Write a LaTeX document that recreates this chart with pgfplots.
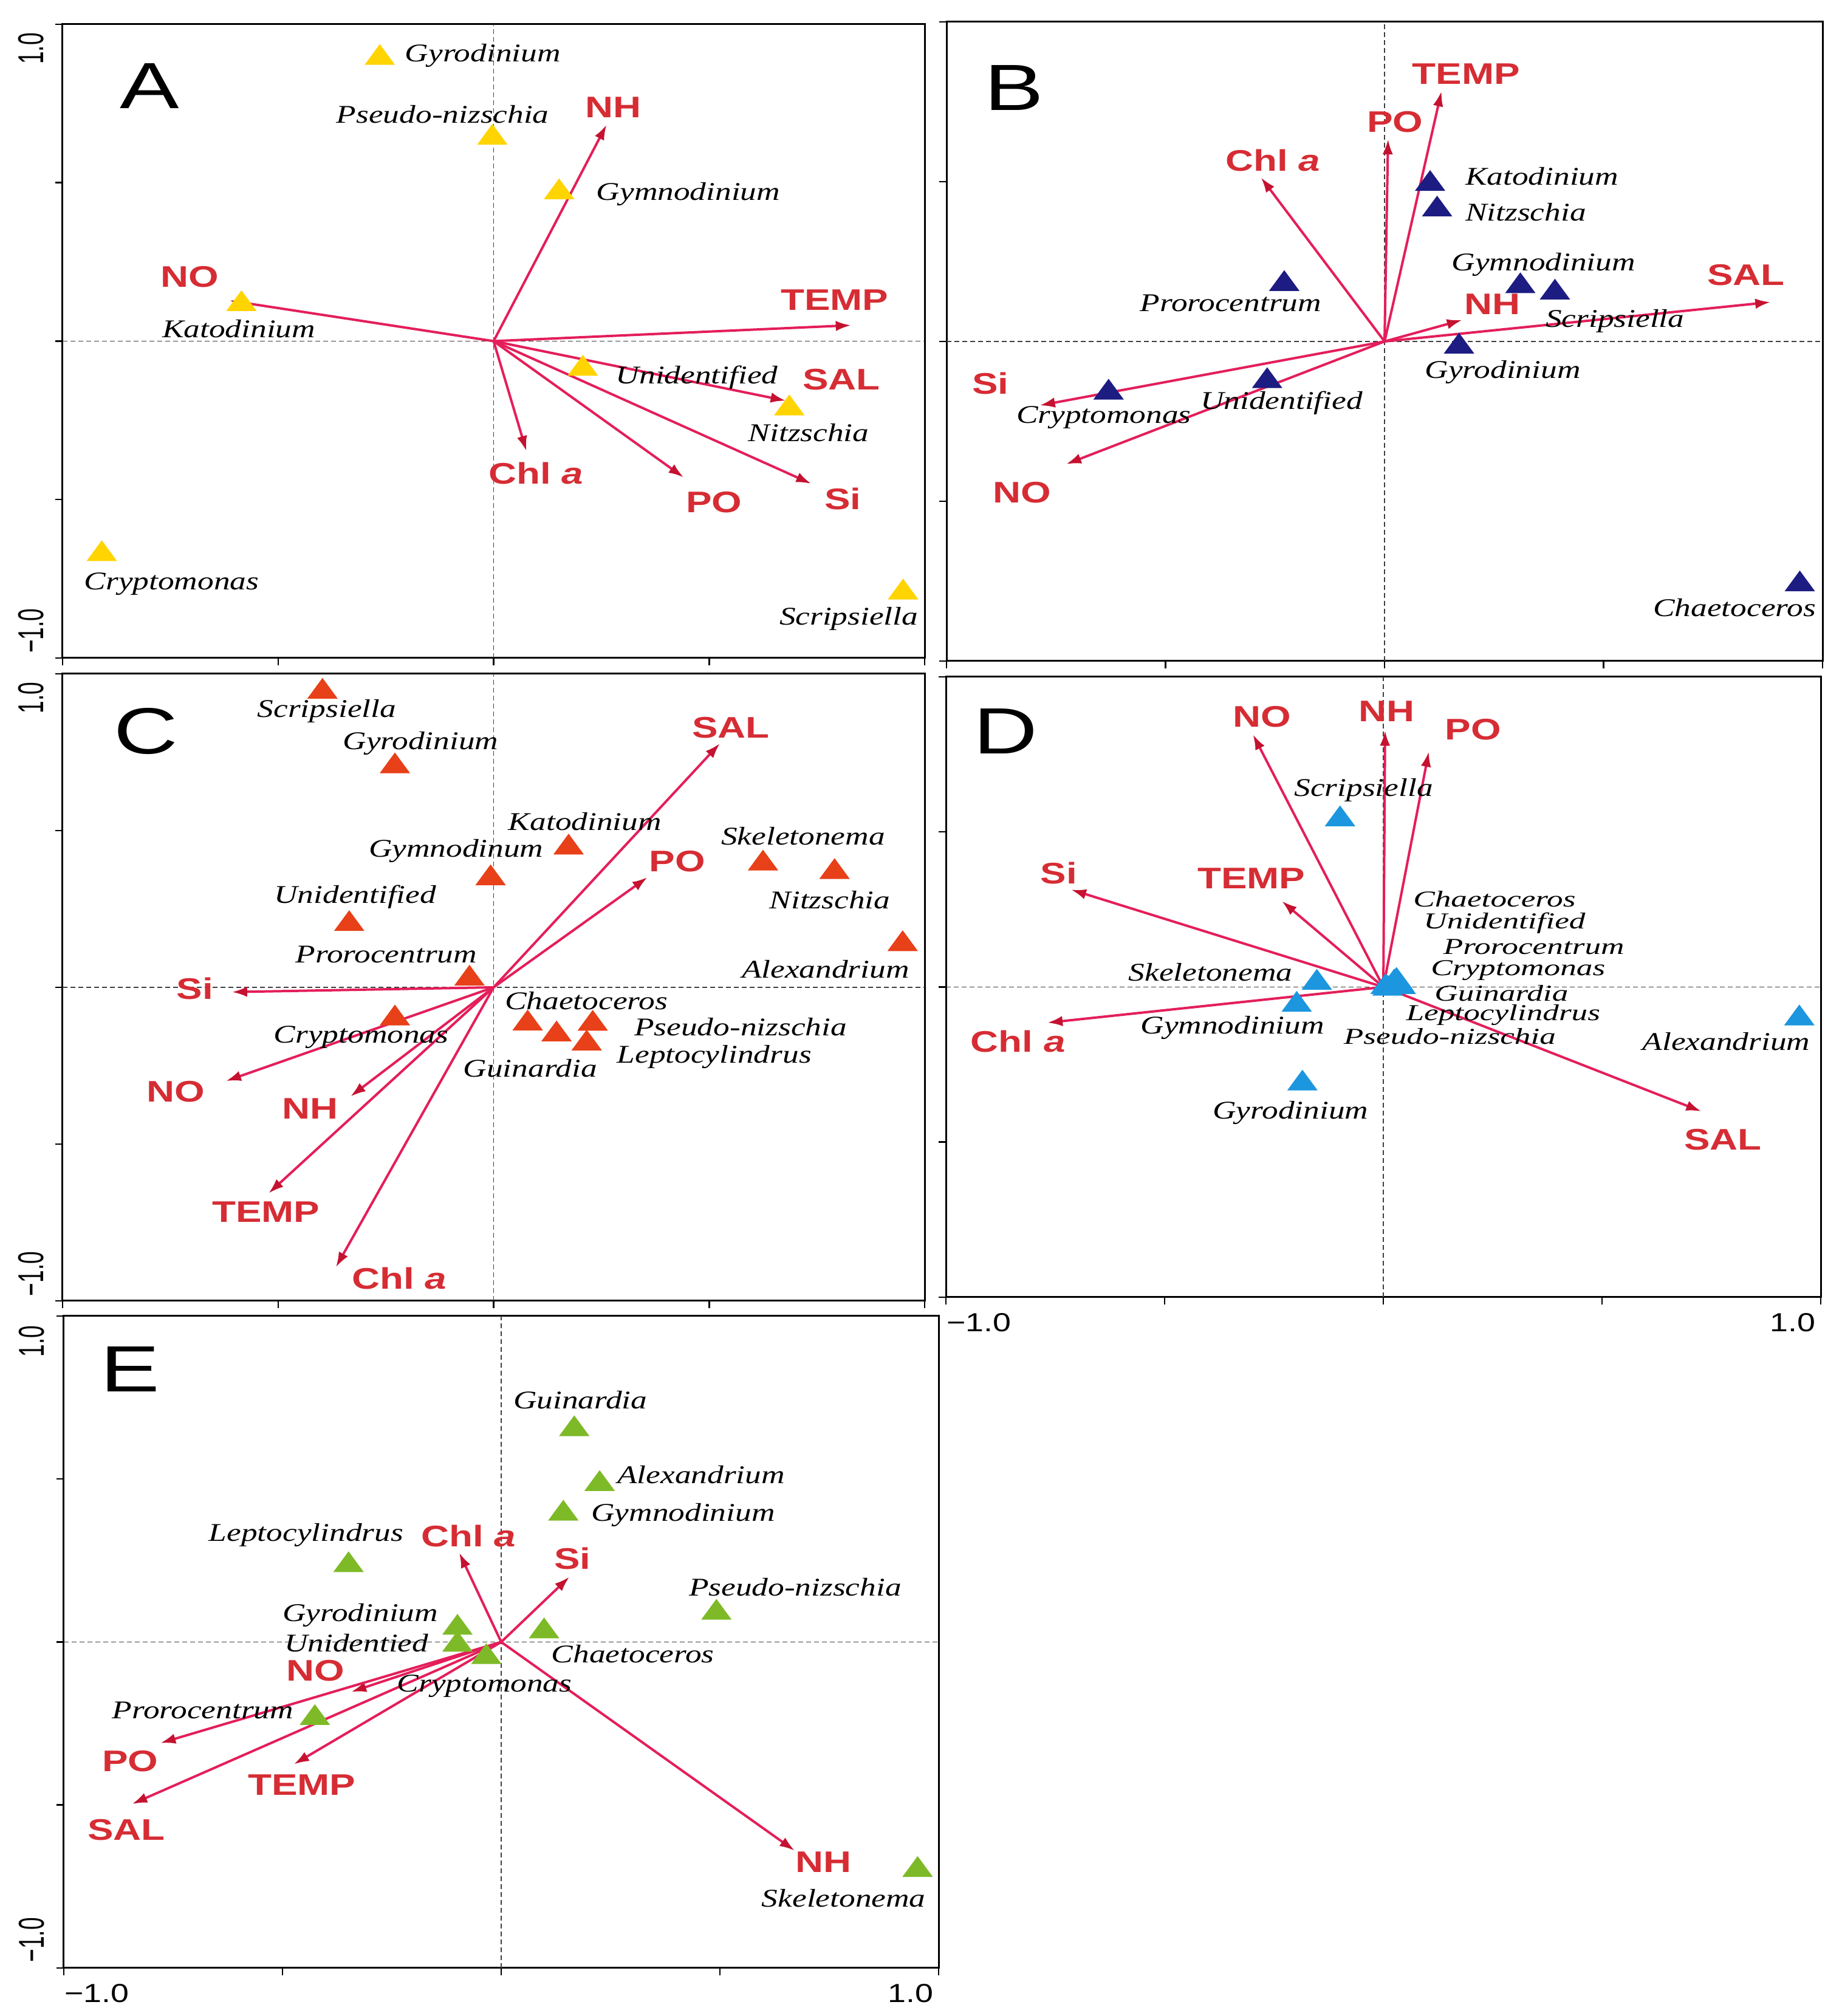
\documentclass[border=0pt]{standalone}
\usepackage{pgfplots}
\pgfplotsset{compat=1.18}
\usetikzlibrary{arrows.meta}
\usepackage{fontspec}
\setmainfont{Liberation Serif}
\newfontfamily\arial{Liberation Sans}

\definecolor{arrline}{RGB}{228,30,90}
\definecolor{arrhead}{RGB}{196,18,48}
\definecolor{labred}{RGB}{214,44,52}
\definecolor{cyel}{RGB}{255,212,0}
\definecolor{cnavy}{RGB}{28,28,130}
\definecolor{cred}{RGB}{232,64,24}
\definecolor{cblue}{RGB}{28,150,222}
\definecolor{cgreen}{RGB}{126,186,40}

\newcommand{\spl}[3]{\node[inner sep=0pt, xscale=1.27, font=\fontsize{8.4}{9}\selectfont\itshape] at (axis cs:#1,#2) {#3};}
\newcommand{\spls}[3]{\node[inner sep=0pt, xscale=1.42, font=\fontsize{7.5}{8}\selectfont\itshape] at (axis cs:#1,#2) {#3};}
\newcommand{\splw}[3]{\node[inner sep=0pt, anchor=west, xscale=1.27, font=\fontsize{8.4}{9}\selectfont\itshape] at (axis cs:#1,#2) {#3};}
\newcommand{\lab}[3]{\node[inner sep=0pt, xscale=1.3, text=labred, font=\arial\bfseries\fontsize{9.8}{10}\selectfont] at (axis cs:#1,#2) {#3};}
\newcommand{\arr}[2]{\addplot[arrline, line width=0.8pt, -{Latex[length=5pt,width=3.4pt,color=arrhead]}] coordinates {(0,0) (#1,#2)};}
\newcommand{\pletter}[3]{\node[inner sep=0pt, xscale=1.36, font=\arial\fontsize{21.5}{22}\selectfont] at (axis cs:#1,#2) {#3};}
\newcommand{\zerolines}{%
  \addplot[black!75, line width=0.35pt, dash pattern=on 1.6pt off 1pt] coordinates {(-1,0) (1,0)};
  \addplot[black!75, line width=0.35pt, dash pattern=on 1.6pt off 1pt] coordinates {(0,-1) (0,1)};}
\newcommand{\ylabs}{%
  \node[rotate=90, yscale=1.6, inner sep=0pt, font=\arial\fontsize{7.4}{8}\selectfont] at (axis cs:-1.073,0.923) {1.0};
  \node[rotate=90, yscale=1.6, inner sep=0pt, font=\arial\fontsize{7.4}{8}\selectfont] at (axis cs:-1.073,-0.914) {−1.0};}
\newcommand{\xlabs}{%
  \node[anchor=north west, yshift=-5pt, xscale=1.25, inner sep=0pt, font=\arial\fontsize{8.6}{9}\selectfont] at (axis cs:-1,-1) {−1.0};
  \node[anchor=north east, yshift=-5pt, xshift=-1.5pt, xscale=1.25, inner sep=0pt, font=\arial\fontsize{8.6}{9}\selectfont] at (axis cs:1,-1) {1.0};}

\pgfplotsset{panel/.style={scale only axis, anchor=south west,
  xmin=-1, xmax=1, ymin=-1, ymax=1,
  xtick={-1,-0.5,0,0.5,1}, ytick={-1,-0.5,0,0.5,1},
  xticklabels={}, yticklabels={},
  tick pos=left, tick align=outside, major tick length=2.4pt,
  axis line style={line width=0.6pt, black},
  every tick/.style={line width=0.5pt, black},
  clip=false}}

\begin{document}
\begin{tikzpicture}
\path[use as bounding box] (0,0) rectangle (606.2pt,663.6pt);

% ---------------- A ----------------
\begin{axis}[panel, at={(20.6pt,447pt)}, width=283.8pt, height=208.6pt]
\zerolines
\arr{0.262}{0.683}
\arr{-0.613}{0.128}
\arr{0.829}{0.050}
\arr{0.678}{-0.188}
\arr{0.737}{-0.450}
\arr{0.441}{-0.430}
\arr{0.076}{-0.347}
\addplot[only marks, mark=triangle*, mark size=4.2pt, mark options={xscale=1.27, fill=cyel, draw=cyel}] coordinates {
(-0.264,0.894) (-0.003,0.642) (0.152,0.470) (-0.585,0.117)
(0.207,-0.087) (0.686,-0.212) (-0.909,-0.672) (0.950,-0.793)};
\splw{-0.207}{0.901}{Gyrodinium}
\spl{-0.118}{0.715}{Pseudo-nizschia}
\splw{0.237}{0.464}{Gymnodinium}
\spl{-0.591}{0.038}{Katodinium}
\splw{0.282}{-0.114}{Unidentified}
\spl{0.731}{-0.289}{Nitzschia}
\spl{-0.747}{-0.766}{Cryptomonas}
\spl{0.824}{-0.876}{Scripsiella}
\lab{0.277}{0.737}{NH}
\lab{-0.705}{0.202}{NO}
\lab{0.791}{0.130}{TEMP}
\lab{0.807}{-0.121}{SAL}
\lab{0.810}{-0.497}{Si}
\lab{0.511}{-0.508}{PO}
\lab{0.098}{-0.417}{Chl \textit{a}}
\pletter{-0.798}{0.806}{A}
\ylabs
\end{axis}

% ---------------- B ----------------
\begin{axis}[panel, at={(311.6pt,446pt)}, width=288.4pt, height=210.4pt]
\zerolines
\arr{0.130}{0.783}
\arr{0.008}{0.633}
\arr{-0.282}{0.513}
\arr{0.881}{0.123}
\arr{0.177}{0.067}
\arr{-0.787}{-0.200}
\arr{-0.727}{-0.384}
\addplot[only marks, mark=triangle*, mark size=4.2pt, mark options={xscale=1.27, fill=cnavy, draw=cnavy}] coordinates {
(0.104,0.493) (0.120,0.413) (-0.229,0.180) (0.310,0.173) (0.389,0.153)
(0.170,-0.016) (-0.268,-0.124) (-0.630,-0.160) (0.948,-0.760)};
\splw{0.183}{0.516}{Katodinium}
\splw{0.183}{0.404}{Nitzschia}
\spl{-0.351}{0.120}{Prorocentrum}
\spl{0.363}{0.240}{Gymnodinium}
\spl{0.526}{0.063}{Scripsiella}
\spl{0.270}{-0.096}{Gyrodinium}
\spl{-0.235}{-0.193}{Unidentified}
\spl{-0.641}{-0.237}{Cryptomonas}
\spl{0.799}{-0.833}{Chaetoceros}
\lab{0.186}{0.837}{TEMP}
\lab{0.024}{0.687}{PO}
\lab{-0.255}{0.567}{Chl \textit{a}}
\lab{0.825}{0.207}{SAL}
\lab{0.246}{0.116}{NH}
\lab{-0.900}{-0.131}{Si}
\lab{-0.827}{-0.473}{NO}
\pletter{-0.846}{0.793}{B}
\end{axis}

% ---------------- C ----------------
\begin{axis}[panel, at={(20.6pt,235.4pt)}, width=283.8pt, height=206.4pt]
\zerolines
\arr{0.525}{0.778}
\arr{0.357}{0.351}
\arr{-0.607}{-0.015}
\arr{-0.621}{-0.299}
\arr{-0.332}{-0.348}
\arr{-0.522}{-0.657}
\arr{-0.366}{-0.893}
\addplot[only marks, mark=triangle*, mark size=4.2pt, mark options={xscale=1.27, fill=cred, draw=cred}] coordinates {
(-0.397,0.943) (-0.229,0.705) (0.174,0.446) (-0.007,0.348) (0.625,0.395)
(0.791,0.368) (-0.335,0.202) (0.949,0.138) (-0.056,0.028) (-0.229,-0.099)
(0.079,-0.115) (0.146,-0.150) (0.230,-0.116) (0.216,-0.179)};
\spl{-0.387}{0.880}{Scripsiella}
\spl{-0.169}{0.778}{Gyrodinium}
\spl{0.212}{0.529}{Katodinium}
\spl{-0.087}{0.435}{Gymnodinum}
\spl{0.718}{0.482}{Skeletonema}
\spl{0.780}{0.278}{Nitzschia}
\spl{-0.321}{0.288}{Unidentified}
\spl{0.770}{0.057}{Alexandrium}
\spl{-0.249}{0.105}{Prorocentrum}
\spl{-0.307}{-0.159}{Cryptomonas}
\spl{0.215}{-0.043}{Chaetoceros}
\spl{0.085}{-0.259}{Guinardia}
\spl{0.573}{-0.126}{Pseudo-nizschia}
\spl{0.512}{-0.222}{Leptocylindrus}
\lab{0.550}{0.829}{SAL}
\lab{0.426}{0.402}{PO}
\lab{-0.693}{-0.003}{Si}
\lab{-0.738}{-0.332}{NO}
\lab{-0.426}{-0.386}{NH}
\lab{-0.528}{-0.716}{TEMP}
\lab{-0.219}{-0.929}{Chl \textit{a}}
\pletter{-0.807}{0.816}{C}
\ylabs
\end{axis}

% ---------------- D ----------------
\begin{axis}[panel, at={(311.4pt,236.6pt)}, width=288pt, height=204.2pt]
\zerolines
\arr{-0.298}{0.814}
\arr{0.004}{0.827}
\arr{0.104}{0.759}
\arr{-0.714}{0.314}
\arr{-0.232}{0.277}
\arr{-0.768}{-0.115}
\arr{0.727}{-0.401}
\addplot[only marks, mark=triangle*, mark size=4.2pt, mark options={xscale=1.27, fill=cblue, draw=cblue}] coordinates {
(-0.099,0.541) (-0.152,0.014) (-0.198,-0.057) (-0.185,-0.311) (0.951,-0.101)
(0.030,0.020) (0.025,0.015) (0.035,0.010) (0.020,0.000) (0.010,-0.005) (0.040,0.000) (0.005,0.000)};
\spl{-0.045}{0.635}{Scripsiella}
\spl{-0.395}{0.047}{Skeletonema}
\spl{-0.345}{-0.132}{Gymnodinium}
\spl{-0.212}{-0.405}{Gyrodinium}
\spl{0.784}{-0.176}{Alexandrium}
\spls{0.254}{0.284}{Chaetoceros}
\spls{0.277}{0.206}{Unidentified}
\spls{0.344}{0.130}{Prorocentrum}
\spls{0.308}{0.054}{Cryptomonas}
\spls{0.270}{-0.020}{Guinardia}
\spls{0.274}{-0.090}{Leptocylindrus}
\spls{0.152}{-0.160}{Pseudo-nizschia}
\lab{-0.278}{0.872}{NO}
\lab{0.008}{0.889}{NH}
\lab{0.205}{0.831}{PO}
\lab{-0.742}{0.368}{Si}
\lab{-0.302}{0.351}{TEMP}
\lab{-0.835}{-0.176}{Chl \textit{a}}
\lab{0.776}{-0.491}{SAL}
\pletter{-0.864}{0.824}{D}
\xlabs
\end{axis}

% ---------------- E ----------------
\begin{axis}[panel, at={(21pt,15.8pt)}, width=288pt, height=214.6pt]
\zerolines
\arr{-0.096}{0.274}
\arr{0.156}{0.200}
\arr{-0.343}{-0.153}
\arr{-0.779}{-0.310}
\arr{-0.844}{-0.497}
\arr{-0.474}{-0.375}
\arr{0.671}{-0.640}
\addplot[only marks, mark=triangle*, mark size=4.2pt, mark options={xscale=1.27, fill=cgreen, draw=cgreen}] coordinates {
(0.167,0.653) (0.225,0.485) (0.142,0.394) (-0.349,0.236) (0.492,0.090)
(-0.100,0.044) (-0.100,-0.008) (0.098,0.033) (-0.034,-0.046) (-0.426,-0.233) (0.952,-0.699)};
\spl{0.181}{0.742}{Guinardia}
\spl{0.457}{0.513}{Alexandrium}
\spl{0.416}{0.389}{Gymnodinium}
\spl{-0.446}{0.329}{Leptocylindrus}
\spl{0.672}{0.169}{Pseudo-nizschia}
\spl{-0.322}{0.082}{Gyrodinium}
\spl{-0.331}{-0.004}{Unidentied}
\spl{0.301}{-0.036}{Chaetoceros}
\spl{-0.038}{-0.136}{Cryptomonas}
\spl{-0.682}{-0.210}{Prorocentrum}
\spl{0.783}{-0.786}{Skeletonema}
\lab{-0.075}{0.325}{Chl \textit{a}}
\lab{0.163}{0.256}{Si}
\lab{-0.425}{-0.088}{NO}
\lab{-0.848}{-0.365}{PO}
\lab{-0.857}{-0.576}{SAL}
\lab{-0.456}{-0.438}{TEMP}
\lab{0.737}{-0.675}{NH}
\pletter{-0.848}{0.836}{E}
\ylabs
\xlabs
\end{axis}
\end{tikzpicture}
\end{document}
